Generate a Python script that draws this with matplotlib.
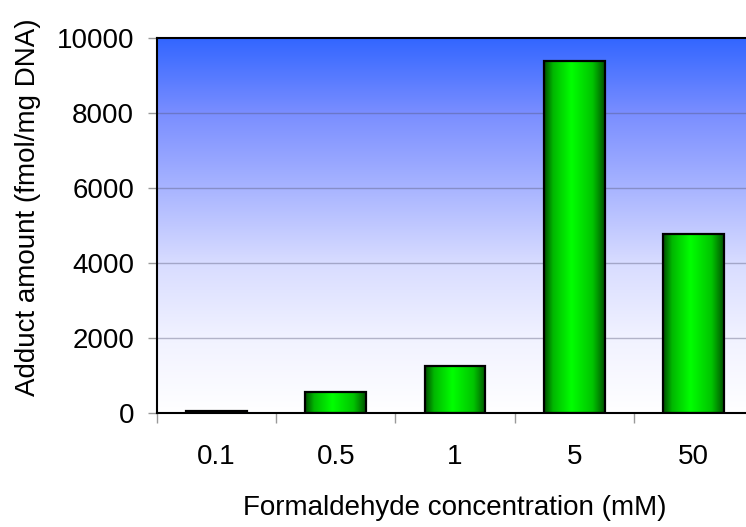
import numpy as np
import matplotlib
matplotlib.use("Agg")
import matplotlib.pyplot as plt
from matplotlib.colors import LinearSegmentedColormap

# values
concentrations = ["0.1", "0.5", "1", "5", "50"]
adducts = [50, 560, 1250, 9390, 4770]
yticks = [0, 2000, 4000, 6000, 8000, 10000]

plt.rcParams['font.family'] = ['Liberation Sans', 'DejaVu Sans']

W, H = 746, 527
fig = plt.figure(figsize=(W / 100, H / 100), dpi=100)
# plot area runs slightly past the right edge, as in the reference
ax = fig.add_axes([157 / W, (H - 413) / H, 596 / W, 375 / H])

x = np.arange(len(concentrations))
xlim = (-0.5, len(concentrations) - 0.5)
ylim = (0, 10000)

# blue -> white background gradient (fades fast toward the bottom)
bg = LinearSegmentedColormap.from_list(
    "bg", [(0.0, "#ffffff"), (0.2, "#f1f2ff"), (0.4, "#d8dcff"),
           (0.6, "#a8b4ff"), (0.8, "#7a8eff"), (1.0, "#3366ff")])
grad_v = np.linspace(0, 1, 256).reshape(-1, 1)
ax.imshow(grad_v, extent=(*xlim, *ylim), origin="lower", aspect="auto",
          cmap=bg, zorder=0, interpolation="bicubic")

for t in yticks[1:-1]:
    ax.axhline(t, color="#555577", alpha=0.4, lw=1.0, zorder=1)

# green cylinder-like bars
green = LinearSegmentedColormap.from_list(
    "green", [(0.0, "#004c00"), (0.15, "#00b800"), (0.45, "#00ff00"),
              (0.8, "#00c400"), (1.0, "#005400")])
grad_h = np.linspace(0, 1, 256).reshape(1, -1)
bars = ax.bar(x, adducts, width=0.51, facecolor="none", edgecolor="black",
              lw=1.6, zorder=3)
for p in bars.patches:
    x0, w, h = p.get_x(), p.get_width(), p.get_height()
    ax.imshow(grad_h, extent=(x0, x0 + w, 0, h), aspect="auto",
              cmap=green, zorder=2, interpolation="bicubic")

ax.set_xlim(*xlim)
ax.set_ylim(*ylim)

ax.set_yticks(yticks)
ax.set_yticklabels([str(t) for t in yticks], fontsize=20)
ax.tick_params(axis="y", direction="out", length=6.5, width=1, color="#999999", pad=10)

ax.set_xticks(x)
ax.set_xticklabels(concentrations, fontsize=20)
ax.set_xticks(np.arange(-0.5, len(concentrations)), minor=True)
ax.tick_params(axis="x", which="major", length=0, pad=22)
ax.tick_params(axis="x", which="minor", direction="out", length=7.5, width=1, color="#999999")

for s in ["left", "top", "bottom"]:
    ax.spines[s].set_color("black")
    ax.spines[s].set_linewidth(1.5)
ax.spines["right"].set_visible(False)

fig.text(455 / W, 1 - 508 / H, "Formaldehyde concentration (mM)",
         ha="center", va="center", fontsize=20)
fig.text(28 / W, 1 - 207 / H, "Adduct amount (fmol/mg DNA)",
         ha="center", va="center", rotation=90, fontsize=20)

fig.savefig("out.png", dpi=100)
